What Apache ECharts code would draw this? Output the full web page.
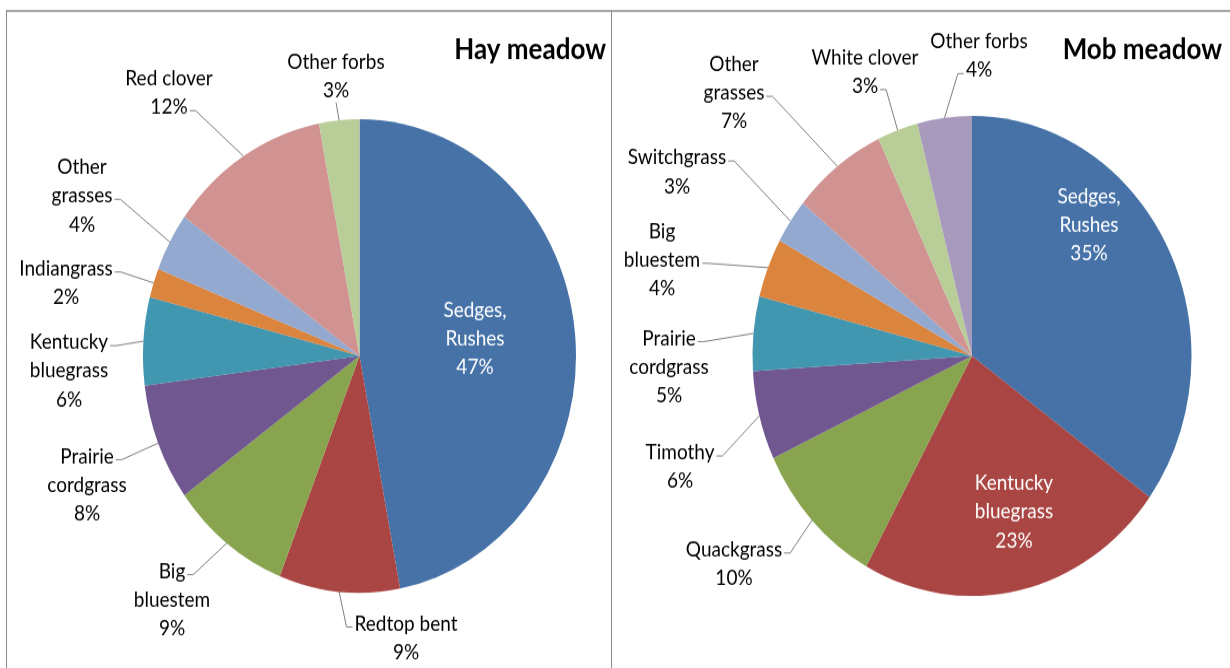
<!DOCTYPE html>
<html>
<head>
<meta charset="utf-8">
<title>Hay meadow vs Mob meadow</title>
<script src="https://cdn.jsdelivr.net/npm/echarts@6/dist/echarts.min.js"></script>
<style>
  html, body { margin: 0; padding: 0; background: #fff; overflow: hidden; }
  #wrap { width: 1230px; height: 668px; overflow: hidden; }
  /* the chart is drawn a little shorter and stretched vertically, giving oval pies */
  #chart { width: 1230px; height: 611px; transform: scaleY(1.0933); transform-origin: 0 0; }
</style>
</head>
<body>
<div id="wrap"><div id="chart"></div></div>
<script>
// ---- data ----
const hayCategories = ['Sedges, Rushes', 'Redtop bent', 'Big bluestem', 'Prairie cordgrass',
  'Kentucky bluegrass', 'Indiangrass', 'Other grasses', 'Red clover', 'Other forbs'];
const hayLabelText = ['Sedges,\nRushes', 'Redtop bent', 'Big\nbluestem', 'Prairie\ncordgrass',
  'Kentucky\nbluegrass', 'Indiangrass', 'Other\ngrasses', 'Red clover', 'Other forbs'];
const hayValues = [47, 9, 9, 8, 6, 2, 4, 12, 3];

const mobCategories = ['Sedges, Rushes', 'Kentucky bluegrass', 'Quackgrass', 'Timothy',
  'Prairie cordgrass', 'Big bluestem', 'Switchgrass', 'Other grasses', 'White clover', 'Other forbs'];
const mobLabelText = ['Sedges,\nRushes', 'Kentucky\nbluegrass', 'Quackgrass', 'Timothy',
  'Prairie\ncordgrass', 'Big\nbluestem', 'Switchgrass', 'Other\ngrasses', 'White clover', 'Other forbs'];
const mobValues = [35, 23, 10, 6, 5, 4, 3, 7, 3, 4];

const titles = ['Hay meadow', 'Mob meadow'];

// ---- styling ----
const palette = ['#4672A8', '#A94542', '#88A44F', '#70578F', '#4197AF',
  '#DA843E', '#94A9CF', '#D09392', '#B8CD97', '#A89ABC'];

// label placement in page pixels: [centre x, centre y, leader side, text line carrying the leader tick]
const hayLabelPlacement = [
  [475, 339, 'in'], [406, 638, 'L', 0], [172, 600, 'R', 0], [87, 485, 'R', 0],
  [69, 371, 'R', 0], [66, 283, 'R', 0], [82, 196, 'R', 1], [169, 93, 'R', 1], [336, 76, 'B']
];
const mobLabelPlacement = [
  [1089, 225, 'in'], [1014, 512, 'in'], [734, 564, 'R', 0], [680, 467, 'R', 0],
  [669, 367, 'R', 0], [662, 260, 'R', 1], [677, 172, 'R', 0], [734, 93, 'R', 1],
  [865, 72, 'R', 1], [979, 56, 'L', 1]
];

const SY = 668 / 611;
const FONT_FAMILY = 'Lato';
const FONT_SIZE = 19;
const LINE_H = 26.2;

const measureCtx = document.createElement('canvas').getContext('2d');
measureCtx.font = FONT_SIZE + 'px ' + FONT_FAMILY;

function placeLabels(placement) {
  return function (p) {
    const pl = placement[p.dataIndex];
    const x = pl[0], y = pl[1] / SY;
    const out = { x: x, y: y, align: 'center', verticalAlign: 'middle' };
    if (pl[2] === 'in' || !p.labelLinePoints) return out;
    const lines = p.text.split('\n');
    const n = lines.length;
    const top = y - n * LINE_H / 2;
    const anchor = p.labelLinePoints[0];
    let end, bend;
    if (pl[2] === 'B') {
      end = [x, top + n * LINE_H - 2];
      bend = end;
    } else {
      const i = pl[3];
      const ly = top + LINE_H * (i + 0.5) + 3;
      const w = measureCtx.measureText(lines[i]).width;
      const dir = pl[2] === 'R' ? 1 : -1;
      end = [x + dir * (w / 2 + 2), ly];
      bend = [end[0] + dir * 6, ly];
    }
    out.labelLinePoints = [anchor, bend, end];
    return out;
  };
}

function pieSeries(names, labels, values, placement, center, radius) {
  return {
    type: 'pie',
    center: center,
    radius: radius,
    startAngle: 90,
    clockwise: true,
    avoidLabelOverlap: false,
    animation: false,
    emphasis: { disabled: true },
    itemStyle: { borderWidth: 0 },
    data: values.map(function (v, i) {
      const inside = placement[i][2] === 'in';
      return {
        name: names[i],
        value: v,
        itemStyle: { color: palette[i] },
        label: inside ? { position: 'inside', color: '#ffffff' } : {},
        labelLine: { show: !inside }
      };
    }),
    label: {
      show: true,
      position: 'outside',
      formatter: function (p) { return labels[p.dataIndex] + '\n' + p.value + '%'; },
      fontFamily: FONT_FAMILY,
      fontSize: FONT_SIZE,
      lineHeight: LINE_H,
      color: '#000000'
    },
    labelLine: { show: true, length: 10, length2: 6, lineStyle: { color: '#7f7f7f', width: 1 } },
    labelLayout: placeLabels(placement)
  };
}

const chart = echarts.init(document.getElementById('chart'), null, { renderer: 'canvas' });

const frameColor = '#8a8a8a';
chart.setOption({
  backgroundColor: '#ffffff',
  graphic: [
    { type: 'line', shape: { x1: 6, y1: 11 / SY, x2: 1230, y2: 11 / SY }, style: { stroke: frameColor, lineWidth: 1.6 } },
    { type: 'line', shape: { x1: 6.5, y1: 11 / SY, x2: 6.5, y2: 611 }, style: { stroke: frameColor, lineWidth: 1 } },
    { type: 'line', shape: { x1: 611.5, y1: 11 / SY, x2: 611.5, y2: 611 }, style: { stroke: frameColor, lineWidth: 1 } },
    { type: 'text', x: 606, y: 50 / SY, style: { text: titles[0], fill: '#000', align: 'right', verticalAlign: 'middle',
      font: 'bold 26px ' + FONT_FAMILY } },
    { type: 'text', x: 1222, y: 50 / SY, style: { text: titles[1], fill: '#000', align: 'right', verticalAlign: 'middle',
      font: 'bold 26px ' + FONT_FAMILY } }
  ],
  series: [
    pieSeries(hayCategories, hayLabelText, hayValues, hayLabelPlacement, [359.5, 356 / SY], 216.5),
    pieSeries(mobCategories, mobLabelText, mobValues, mobLabelPlacement, [972, 356 / SY], 219.5)
  ]
});
</script>
</body>
</html>
